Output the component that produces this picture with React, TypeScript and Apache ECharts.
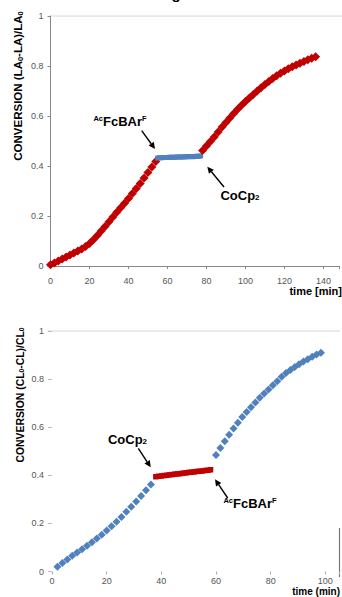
import React, { useEffect, useRef } from 'react';
import * as echarts from 'echarts';

// ---------- Chart 1 (top): LA conversion ----------
const xTicksTop = [0, 20, 40, 60, 80, 100, 120, 140];
const yTicks = [0, 0.2, 0.4, 0.6, 0.8, 1];

const topRed1T = [0, 2, 4, 6, 8, 10, 12, 14, 16, 18, 20, 22, 24, 26, 28, 30, 32, 34, 36, 38, 40, 42, 44, 46, 48, 50, 52, 54];
const topRed1V = [0.005, 0.012, 0.02, 0.028, 0.036, 0.044, 0.052, 0.06, 0.068, 0.078, 0.09, 0.105, 0.122, 0.14, 0.158, 0.177, 0.196, 0.215, 0.233, 0.251, 0.27, 0.29, 0.31, 0.33, 0.352, 0.374, 0.396, 0.418];

const topBlueT = [55, 56, 57, 58, 59, 60, 61, 62, 63, 64, 65, 66, 67, 68, 69, 70, 71, 72, 73, 74, 75, 76, 77];
const topBlueV = [0.432, 0.433, 0.433, 0.434, 0.434, 0.434, 0.435, 0.435, 0.435, 0.435, 0.436, 0.436, 0.436, 0.436, 0.437, 0.437, 0.437, 0.438, 0.437, 0.438, 0.439, 0.439, 0.44];

const topRed2T = [78, 80, 82, 84, 86, 88, 90, 92, 94, 96, 98, 100, 102, 104, 106, 108, 110, 112, 114, 116, 118, 120, 122, 124, 126, 128, 130, 132, 134, 136];
const topRed2V = [0.462, 0.48, 0.498, 0.516, 0.536, 0.556, 0.574, 0.592, 0.61, 0.627, 0.643, 0.658, 0.672, 0.686, 0.7, 0.713, 0.726, 0.738, 0.75, 0.761, 0.771, 0.78, 0.789, 0.797, 0.804, 0.811, 0.818, 0.825, 0.831, 0.837];

// ---------- Chart 2 (bottom): CL conversion ----------
const xTicksBottom = [0, 20, 40, 60, 80, 100];

const botBlue1T = [2, 3.8, 5.6, 7.4, 9.2, 11, 12.8, 14.6, 16.4, 18.2, 20, 21.8, 23.6, 25.4, 27.2, 29, 30.8, 32.6, 34.4, 36.2];
const botBlue1V = [0.02, 0.035, 0.05, 0.065, 0.079, 0.093, 0.107, 0.122, 0.137, 0.153, 0.17, 0.188, 0.207, 0.227, 0.248, 0.269, 0.291, 0.314, 0.338, 0.362];

const botRedT = [38, 39, 40, 41, 42, 43, 44, 45, 46, 47, 48, 49, 50, 51, 52, 53, 54, 55, 56, 57, 58];
const botRedV = [0.394, 0.396, 0.397, 0.399, 0.4, 0.402, 0.403, 0.405, 0.406, 0.407, 0.409, 0.41, 0.412, 0.413, 0.414, 0.416, 0.417, 0.418, 0.42, 0.421, 0.423];

const botBlue2T = [60, 61.6, 63.2, 64.8, 66.4, 68, 69.6, 71.2, 72.8, 74.4, 76, 77.6, 79.2, 80.8, 82.4, 84, 85.6, 87.2, 88.8, 90.4, 92, 93.6, 95.2, 96.8, 98.4];
const botBlue2V = [0.484, 0.513, 0.542, 0.569, 0.595, 0.619, 0.642, 0.663, 0.683, 0.703, 0.722, 0.74, 0.757, 0.774, 0.791, 0.81, 0.825, 0.838, 0.85, 0.862, 0.873, 0.883, 0.893, 0.902, 0.91];

const RED = '#c00000';
const BLUE = '#4f81bd';

const zip = (t: number[], v: number[]) => t.map((x, i) => [x, v[i]]);

function arrow(x1: number, y1: number, x2: number, y2: number) {
  const a = Math.atan2(y2 - y1, x2 - x1);
  const L = 6.5;
  const W = 3.2;
  const bx = x2 - L * Math.cos(a);
  const by = y2 - L * Math.sin(a);
  return {
    type: 'group',
    children: [
      { type: 'line', shape: { x1, y1, x2: bx, y2: by }, style: { stroke: '#000', lineWidth: 1.4 } },
      {
        type: 'polygon',
        shape: {
          points: [
            [x2, y2],
            [bx + W * Math.sin(a), by - W * Math.cos(a)],
            [bx - W * Math.sin(a), by + W * Math.cos(a)],
          ],
        },
        style: { fill: '#000' },
      },
    ],
  };
}

const FONT = 'Liberation Sans, Arial, DejaVu Sans, sans-serif';

function annText(x: number, y: number, text: string) {
  return {
    type: 'text',
    x,
    y,
    style: {
      text,
      align: 'center',
      verticalAlign: 'middle',
      fill: '#000',
      fontFamily: FONT,
      rich: {
        m: { fontSize: 13, fontWeight: 'bold', fontFamily: FONT, fill: '#000', color: '#000' },
        sup: { fontSize: 7.5, fontWeight: 'bold', fontFamily: FONT, verticalAlign: 'top', fill: '#000', color: '#000' },
        sub: { fontSize: 8, fontWeight: 'bold', fontFamily: FONT, verticalAlign: 'bottom', fill: '#000', color: '#000' },
      },
    },
  };
}

function yTitle(x: number, y: number, text: string, size: number) {
  return {
    type: 'text',
    x,
    y,
    rotation: Math.PI / 2,
    style: {
      text,
      align: 'center',
      verticalAlign: 'middle',
      fill: '#000',
      rich: {
        m: { fontSize: size, fontWeight: 'bold', fontFamily: FONT, fill: '#000', color: '#000' },
        sub: { fontSize: size * 0.65, fontWeight: 'bold', fontFamily: FONT, verticalAlign: 'bottom', fill: '#000', color: '#000' },
      },
    },
  };
}

const axisLabelBase = { fontSize: 9, color: '#555', fontFamily: FONT };

export default function App() {
  const ref = useRef<HTMLDivElement>(null);

  useEffect(() => {
    if (!ref.current) return;
    const chart = echarts.init(ref.current, undefined, { renderer: 'svg' });
    const xfmt = (ticks: number[]) => (v: number) => (ticks.indexOf(v) >= 0 ? String(v) : '');
    const yfmt = (v: number) => {
      const r = Math.round(v * 10) / 10;
      return yTicks.indexOf(r) >= 0 ? String(r) : '';
    };
    const mk = (color: string) => ({ color, opacity: 1 });

    chart.setOption({
      animation: false,
      backgroundColor: '#fff',
      grid: [
        { left: 50.5, top: 16, width: 148 * 1.965, height: 250 },
        { left: 52, top: 331, width: 105 * 2.74, height: 240.5 },
      ],
      xAxis: [
        {
          type: 'value', gridIndex: 0, min: 0, max: 148, interval: 20,
          axisLine: { show: true, lineStyle: { color: '#868686', width: 1 } },
          axisTick: { show: true, length: 3, lineStyle: { color: '#868686' } },
          axisLabel: { ...axisLabelBase, margin: 10, formatter: xfmt(xTicksTop) },
          splitLine: { show: false },
        },
        {
          type: 'value', gridIndex: 1, min: 0, max: 105, interval: 20,
          axisLine: { show: false },
          axisTick: { show: true, length: 3, lineStyle: { color: '#aaa' } },
          axisLabel: { ...axisLabelBase, margin: 5, formatter: xfmt(xTicksBottom) },
          splitLine: { show: false },
        },
      ],
      yAxis: [
        {
          type: 'value', gridIndex: 0, min: 0, max: 1, interval: 0.2,
          axisLine: { show: true, lineStyle: { color: '#868686', width: 1 } },
          axisTick: { show: true, length: 3, lineStyle: { color: '#868686' } },
          axisLabel: { ...axisLabelBase, margin: 7, formatter: yfmt },
          splitLine: { show: false },
        },
        {
          type: 'value', gridIndex: 1, min: 0, max: 1, interval: 0.2,
          axisLine: { show: false },
          axisTick: { show: true, length: 4, lineStyle: { color: '#bbb' } },
          axisLabel: { ...axisLabelBase, margin: 8, formatter: yfmt },
          splitLine: { show: false },
        },
      ],
      series: [
        { type: 'scatter', xAxisIndex: 0, yAxisIndex: 0, data: zip(topRed1T, topRed1V), symbol: 'diamond', symbolSize: 9, itemStyle: mk(RED) },
        { type: 'scatter', xAxisIndex: 0, yAxisIndex: 0, data: zip(topBlueT, topBlueV), symbol: 'rect', symbolSize: [5, 5], itemStyle: mk(BLUE) },
        { type: 'scatter', xAxisIndex: 0, yAxisIndex: 0, data: zip(topRed2T, topRed2V), symbol: 'diamond', symbolSize: 9, itemStyle: mk(RED) },
        { type: 'scatter', xAxisIndex: 1, yAxisIndex: 1, data: zip(botBlue1T, botBlue1V), symbol: 'diamond', symbolSize: 8, itemStyle: mk(BLUE) },
        { type: 'scatter', xAxisIndex: 1, yAxisIndex: 1, data: zip(botRedT, botRedV), symbol: 'rect', symbolSize: [5.5, 5.5], itemStyle: mk(RED) },
        { type: 'scatter', xAxisIndex: 1, yAxisIndex: 1, data: zip(botBlue2T, botBlue2V), symbol: 'diamond', symbolSize: 8, itemStyle: mk(BLUE) },
      ],
      graphic: [
        // cropped title fragment at very top
        { type: 'text', x: 176, y: -7, style: { text: 'g', fontSize: 15, fontWeight: 'bold', fontFamily: FONT, fill: '#000', align: 'center', verticalAlign: 'middle' } },
        // plot-area top borders
        { type: 'line', shape: { x1: 50.5, y1: 16, x2: 342, y2: 16 }, style: { stroke: '#d6d6d6', lineWidth: 1 } },
        { type: 'line', shape: { x1: 48, y1: 331, x2: 340, y2: 331 }, style: { stroke: '#d6d6d6', lineWidth: 1 } },
        { type: 'line', shape: { x1: 339.5, y1: 528, x2: 339.5, y2: 577 }, style: { stroke: '#777', lineWidth: 1.2 } },
        // axis titles
        yTitle(18, 86, '{m|CONVERSION (LA}{sub|0}{m|-LA)/LA}{sub|0}', 11.5),
        yTitle(20, 395, '{m|CONVERSION (CL}{sub|0}{m|-CL)/CL}{sub|0}', 10.4),
        { type: 'text', x: 342, y: 291, style: { text: 'time [min]', fontSize: 11, fontWeight: 'bold', fontFamily: FONT, fill: '#000', align: 'right', verticalAlign: 'middle' } },
        { type: 'text', x: 340, y: 591.5, style: { text: 'time (min)', fontSize: 10, fontWeight: 'bold', fontFamily: FONT, fill: '#000', align: 'right', verticalAlign: 'middle' } },
        // annotations chart 1
        annText(120, 121, '{sup|Ac}{m|FcBAr}{sup|F}'),
        arrow(141.7, 130.7, 155, 149),
        annText(240, 195, '{m|CoCp}{sub|2}'),
        arrow(224, 187, 207.3, 166.7),
        // annotations chart 2
        annText(127.5, 439, '{m|CoCp}{sub|2}'),
        arrow(138.3, 448.3, 150.7, 467.3),
        annText(250, 503, '{sup|Ac}{m|FcBAr}{sup|F}'),
        arrow(227.7, 498, 215, 479.3),
      ],
    });
    return () => chart.dispose();
  }, []);

  return <div ref={ref} style={{ position: 'absolute', left: 0, top: 0, width: 342, height: 597, background: '#fff' }} />;
}
